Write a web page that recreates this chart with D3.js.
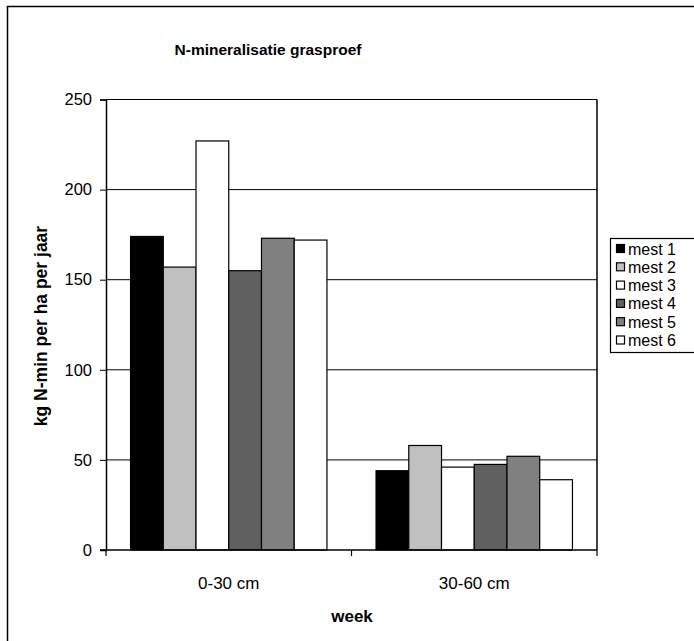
<!DOCTYPE html>
<html>
<head>
<meta charset="utf-8">
<script src="https://cdn.jsdelivr.net/npm/d3@7"></script>
<style>
  body { margin: 0; background: #fff; }
  svg { display: block; font-family: Arial, "Liberation Sans", sans-serif; }
</style>
</head>
<body>
<svg id="chart" width="694" height="641"></svg>
<script>
// data
const categories = ["0-30 cm", "30-60 cm"];
const series = ["mest 1", "mest 2", "mest 3", "mest 4", "mest 5", "mest 6"];
const values = [
  [174, 157, 227, 155, 173, 172],
  [44, 58, 46, 47.5, 52, 39]
];
const yTicks = [0, 50, 100, 150, 200, 250];
const colors = ["#000000", "#c0c0c0", "#ffffff", "#606060", "#808080", "#ffffff"];

const svg = d3.select("#chart");

// outer chart border (clipped at right and bottom)
svg.append("rect")
  .attr("x", 7.5).attr("y", 6.5)
  .attr("width", 720).attr("height", 660)
  .attr("fill", "#fff").attr("stroke", "#000").attr("stroke-width", 1.5);

const plotLeft = 106, plotRight = 597, plotTop = 99.5, plotBottom = 550;

const x0 = d3.scaleBand().domain(categories).range([plotLeft, plotRight]);
const x1 = d3.scaleBand().domain(series).range([0, x0.bandwidth()]).paddingOuter(0.75);
const y = d3.scaleLinear().domain([0, 250]).range([plotBottom, plotTop]);

// gridlines
svg.append("g")
  .selectAll("line")
  .data(yTicks.filter(d => d > 0))
  .enter().append("line")
  .attr("x1", plotLeft).attr("x2", plotRight)
  .attr("y1", d => y(d)).attr("y2", d => y(d))
  .attr("stroke", "#000").attr("stroke-width", 1);

// right edge of plot area
svg.append("line")
  .attr("x1", plotRight).attr("x2", plotRight)
  .attr("y1", plotTop).attr("y2", plotBottom)
  .attr("stroke", "#000").attr("stroke-width", 1.5);

// bars
const groups = svg.append("g")
  .selectAll("g")
  .data(categories)
  .enter().append("g")
  .attr("transform", d => `translate(${x0(d)},0)`);

groups.selectAll("rect")
  .data((c, i) => series.map((s, j) => ({ s, j, v: values[i][j] })))
  .enter().append("rect")
  .attr("x", d => x1(d.s))
  .attr("y", d => y(d.v))
  .attr("width", x1.bandwidth())
  .attr("height", d => y(0) - y(d.v))
  .attr("fill", d => colors[d.j])
  .attr("stroke", "#000").attr("stroke-width", 1.2);

// y axis
const yAxis = svg.append("g")
  .attr("transform", `translate(${plotLeft},0)`)
  .call(d3.axisLeft(y).tickValues(yTicks).tickSize(6).tickPadding(8));
yAxis.select(".domain").attr("stroke-width", 1.5);
yAxis.selectAll("text").attr("font-size", 16.5).attr("fill", "#000").attr("font-family", "Arial");

// x axis: ticks on the category boundaries
const boundaries = [plotLeft].concat(categories.map(c => x0(c) + x0.bandwidth()));
const xAxisG = svg.append("g");
xAxisG.append("line")
  .attr("x1", plotLeft - 6).attr("x2", plotRight)
  .attr("y1", plotBottom).attr("y2", plotBottom)
  .attr("stroke", "#000").attr("stroke-width", 1.5);
xAxisG.selectAll("line.tick")
  .data(boundaries)
  .enter().append("line")
  .attr("class", "tick")
  .attr("x1", d => d).attr("x2", d => d)
  .attr("y1", plotBottom).attr("y2", plotBottom + 6)
  .attr("stroke", "#000").attr("stroke-width", 1.2);
xAxisG.selectAll("text")
  .data(categories)
  .enter().append("text")
  .attr("x", d => x0(d) + x0.bandwidth() / 2)
  .attr("y", 589)
  .attr("text-anchor", "middle")
  .attr("font-size", 17)
  .text(d => d);

// titles
svg.append("text")
  .attr("x", 268).attr("y", 55)
  .attr("text-anchor", "middle")
  .attr("font-size", 15.5).attr("font-weight", "bold")
  .text("N-mineralisatie grasproef");

svg.append("text")
  .attr("x", 352).attr("y", 622)
  .attr("text-anchor", "middle")
  .attr("font-size", 17).attr("font-weight", "bold")
  .text("week");

svg.append("text")
  .attr("transform", "translate(47,326) rotate(-90)")
  .attr("text-anchor", "middle")
  .attr("font-size", 17.5).attr("font-weight", "bold")
  .text("kg N-min per ha per jaar");

// legend
const legend = svg.append("g");
legend.append("rect")
  .attr("x", 610.5).attr("y", 238.5)
  .attr("width", 120).attr("height", 114)
  .attr("fill", "#fff").attr("stroke", "#000").attr("stroke-width", 1.2);

const items = legend.selectAll("g.item")
  .data(series)
  .enter().append("g")
  .attr("class", "item")
  .attr("transform", (d, i) => `translate(0,${249 + i * 18.3})`);

items.append("rect")
  .attr("x", 616.5).attr("y", -4.5)
  .attr("width", 8).attr("height", 8)
  .attr("fill", (d, i) => colors[i])
  .attr("stroke", "#000").attr("stroke-width", 1.2);

items.append("text")
  .attr("x", 628).attr("y", 5.5)
  .attr("font-size", 16)
  .text(d => d);
</script>
</body>
</html>
